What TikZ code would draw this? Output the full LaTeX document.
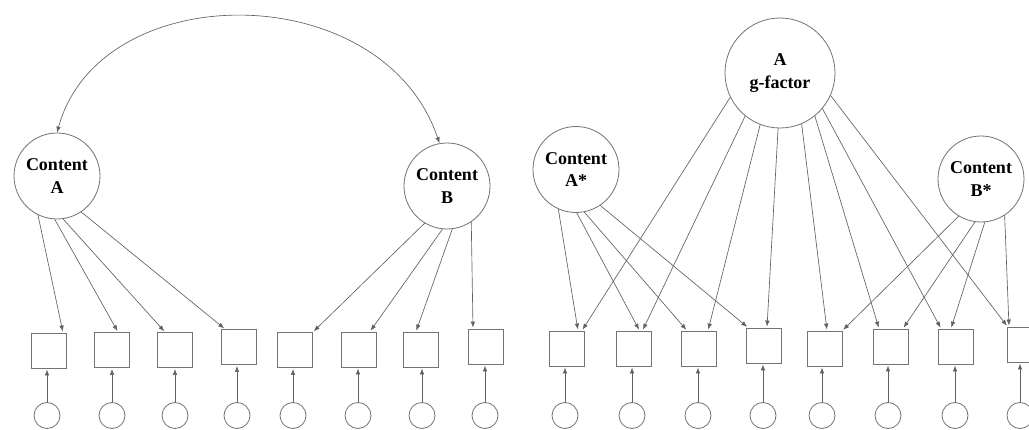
\documentclass[tikz,border=0pt]{standalone}
\usepackage{fontspec}
\setmainfont{Liberation Serif}
\usetikzlibrary{arrows.meta,calc}
\definecolor{linecol}{gray}{0.38}
\definecolor{shapecol}{gray}{0.45}
\tikzset{
  latent/.style={circle, draw=shapecol, line width=0.8pt, minimum size=86pt, inner sep=0pt, align=center,
    font=\fontsize{18}{22.5}\selectfont\bfseries},
  bigfac/.style={latent, minimum size=110pt},
  obs/.style={rectangle, draw=shapecol, line width=0.9pt, minimum size=35pt, inner sep=0pt},
  err/.style={circle, draw=shapecol, line width=0.8pt, minimum size=26pt, inner sep=0pt},
  arr/.style={draw=linecol, line width=0.65pt, -{Latex[length=6pt,width=4.5pt]}, shorten >=1pt},
  dbl/.style={draw=linecol, line width=0.65pt, {Latex[length=6pt,width=4.5pt]}-{Latex[length=6pt,width=4.5pt]}}
}
\begin{document}
\begin{tikzpicture}[x=1pt,y=-1pt]
\useasboundingbox (0,0) rectangle (1029,430);
\clip (0,0) rectangle (1029,430);
\fill[white] (0,0) rectangle (1029,430);

% ---------------- Left panel ----------------
\node[latent] (A) at (57,176) {Content\\A};
\node[latent] (B) at (447,186) {Content\\B};

\foreach \i/\x/\y in {1/48.5/350.5, 2/112/350, 3/174.5/350, 4/238.5/347, 5/295/350, 6/359/349.5, 7/421/349.5, 8/485.5/346.5}
  \node[obs] (lb\i) at (\x,\y) {};
\foreach \i/\x in {1/47, 2/112, 3/175, 4/237, 5/293, 6/358, 7/422, 8/485}
  \node[err] (le\i) at (\x,415.5) {};
\foreach \i in {1,...,8}
  \draw[arr] (le\i) -- (le\i |- lb\i.south);

\draw[dbl] (A.north) .. controls (100,-24) and (383,-24) .. (B.100);

\draw[arr] (A.244) -- ($(lb1.north)+(14.5,0)$);
\draw[arr] (A.267) -- ($(lb2.north)+(6,0)$);
\draw[arr] (A.278) -- ($(lb3.north)+(-9.5,0)$);
\draw[arr] (A.304) -- ($(lb4.north)+(-13.5,0)$);
\draw[arr] (B.239) -- (lb5.north east);
\draw[arr] (B.264) -- ($(lb6.north)+(11,0)$);
\draw[arr] (B.277) -- ($(lb7.north)+(-5,0)$);
\draw[arr] (B.304) -- ($(lb8.north)+(-12.5,0)$);

% ---------------- Right panel ----------------
\node[bigfac] (G) at (780,73) {A\\g-factor};
\node[latent] (As) at (576,169.5) {Content\\A*};
\node[latent] (Bs) at (981,179) {Content\\B*};

\foreach \i/\x/\y in {1/567/348.5, 2/633.5/348.5, 3/699/348.5, 4/764/345.5, 5/824.5/348.5, 6/890.5/346.5, 7/955.5/346.5, 8/1024.5/344.5}
  \node[obs] (rb\i) at (\x,\y) {};
\foreach \i/\x in {1/565, 2/632, 3/698, 4/763, 5/822, 6/888, 7/955, 8/1020}
  \node[err] (re\i) at (\x,415.5) {};
\foreach \i in {1,...,8}
  \draw[arr] (re\i) -- (re\i |- rb\i.south);

\draw[arr] (As.246) -- ($(rb1.north)+(11,0)$);
\draw[arr] (As.271) -- ($(rb2.north)+(6,0)$);
\draw[arr] (As.281) -- ($(rb3.north)+(-12,0)$);
\draw[arr] (As.304) -- ($(rb4.north)+(-16,0)$);

\draw[arr] (G.206) -- ($(rb1.north)+(15,0)$);
\draw[arr] (G.231) -- ($(rb2.north)+(9,0)$);
\draw[arr] (G.249) -- ($(rb3.north)+(9,0)$);
\draw[arr] (G.268) -- ($(rb4.north)+(3,0)$);
\draw[arr] (G.293) -- ($(rb5.north)+(2.5,0)$);
\draw[arr] (G.309) -- ($(rb6.north)+(-11.5,0)$);
\draw[arr] (G.320) -- ($(rb7.north)+(-14.5,0)$);
\draw[arr] (G.336) -- ($(rb8.north)+(-17,0)$);

\draw[arr] (Bs.239) -- (rb5.north east);
\draw[arr] (Bs.262) -- ($(rb6.north)+(12.5,0)$);
\draw[arr] (Bs.275) -- ($(rb7.north)+(-4.5,0)$);
\draw[arr] (Bs.303) -- ($(rb8.north)+(-15.5,0)$);
\end{tikzpicture}
\end{document}
